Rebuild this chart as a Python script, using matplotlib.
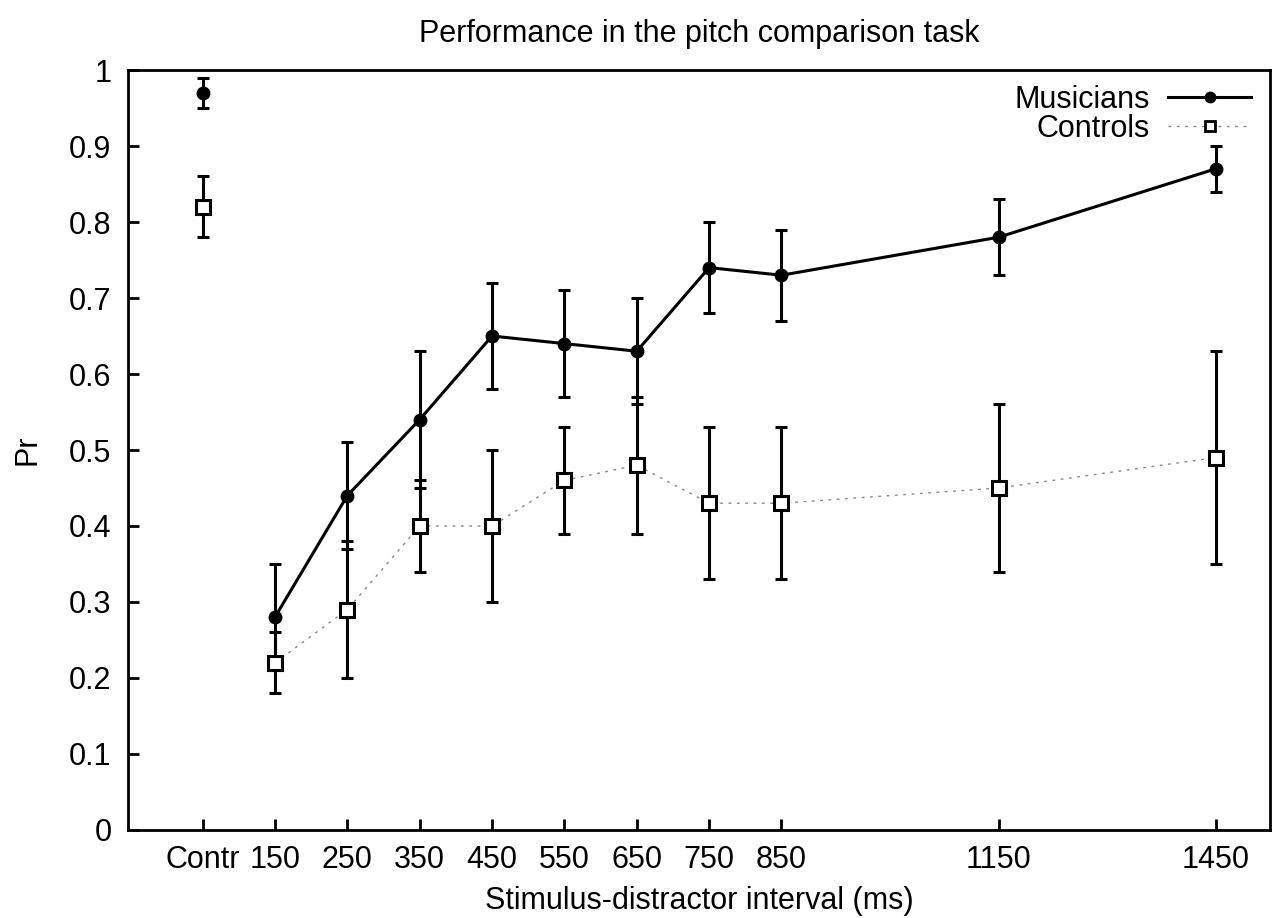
import matplotlib
matplotlib.use("Agg")
import matplotlib.pyplot as plt
import numpy as np

plt.rcParams['font.family'] = ['Liberation Sans', 'DejaVu Sans']

# x positions (Contr placed at 50)
intervals = [50, 150, 250, 350, 450, 550, 650, 750, 850, 1150, 1450]
tick_labels = ["Contr", "150", "250", "350", "450", "550", "650", "750", "850", "1150", "1450"]

musicians = [0.97, 0.28, 0.44, 0.54, 0.65, 0.64, 0.63, 0.74, 0.73, 0.78, 0.87]
musicians_err = [0.02, 0.07, 0.07, 0.09, 0.07, 0.07, 0.07, 0.06, 0.06, 0.05, 0.03]

controls = [0.82, 0.22, 0.29, 0.40, 0.40, 0.46, 0.48, 0.43, 0.43, 0.45, 0.49]
controls_err = [0.04, 0.04, 0.09, 0.06, 0.10, 0.07, 0.09, 0.10, 0.10, 0.11, 0.14]

FS = 22
dotted = (0, (2, 4))

fig = plt.figure(figsize=(12.78, 9.18), dpi=100)
ax = fig.add_axes([0.1002, 0.0959, 0.8935, 0.8278])

x = np.array(intervals)

# error bars
for vals, errs in [(controls, controls_err), (musicians, musicians_err)]:
    ax.errorbar(x, vals, yerr=errs, fmt='none', ecolor='black',
                elinewidth=2.2, capsize=4.5, capthick=2.2, zorder=2)

# lines (the Contr point is not connected)
ax.plot(x[1:], controls[1:], color='#888888', linestyle=dotted, linewidth=1.0, zorder=3)
ax.plot(x[1:], musicians[1:], color='black', linestyle='-', linewidth=2.2, zorder=3)

ax.plot(x, controls, linestyle='none', marker='s', markersize=9.5, markerfacecolor='white',
        markeredgecolor='black', markeredgewidth=2.2, zorder=4)
ax.plot(x, musicians, linestyle='none', marker='o', markersize=9, color='black', zorder=4)

# legend proxies
h1, = ax.plot([], [], color='black', linestyle='-', linewidth=2.2, marker='o', markersize=7.5)
h2, = ax.plot([], [], color='#888888', linestyle=dotted, linewidth=1.0, marker='s',
              markersize=7, markerfacecolor='white', markeredgecolor='black', markeredgewidth=2.0)
leg = ax.legend([h1, h2], ["Musicians", "Controls"], loc='upper right', frameon=False,
                markerfirst=False, fontsize=FS, handlelength=2.7, handletextpad=0.6,
                labelspacing=-0.02, borderaxespad=0.0, bbox_to_anchor=(0.994, 0.997))

ax.set_xlim(-53, 1525)
ax.set_ylim(0, 1)
ax.set_xticks(intervals)
ax.set_xticklabels(tick_labels)
ax.set_yticks(np.arange(0, 1.01, 0.1))
ax.set_yticklabels(["0", "0.1", "0.2", "0.3", "0.4", "0.5", "0.6", "0.7", "0.8", "0.9", "1"])
ax.tick_params(direction='in', length=8, width=2.0, labelsize=FS, pad=11)
ax.tick_params(axis='y', pad=12)
for s in ax.spines.values():
    s.set_linewidth(2.0)

ax.set_title("Performance in the pitch comparison task", fontsize=FS, pad=20)
ax.set_xlabel("Stimulus-distractor interval (ms)", fontsize=FS, labelpad=8)
ax.set_ylabel("Pr", fontsize=FS, labelpad=19)

fig.savefig("out.png", dpi=100)
